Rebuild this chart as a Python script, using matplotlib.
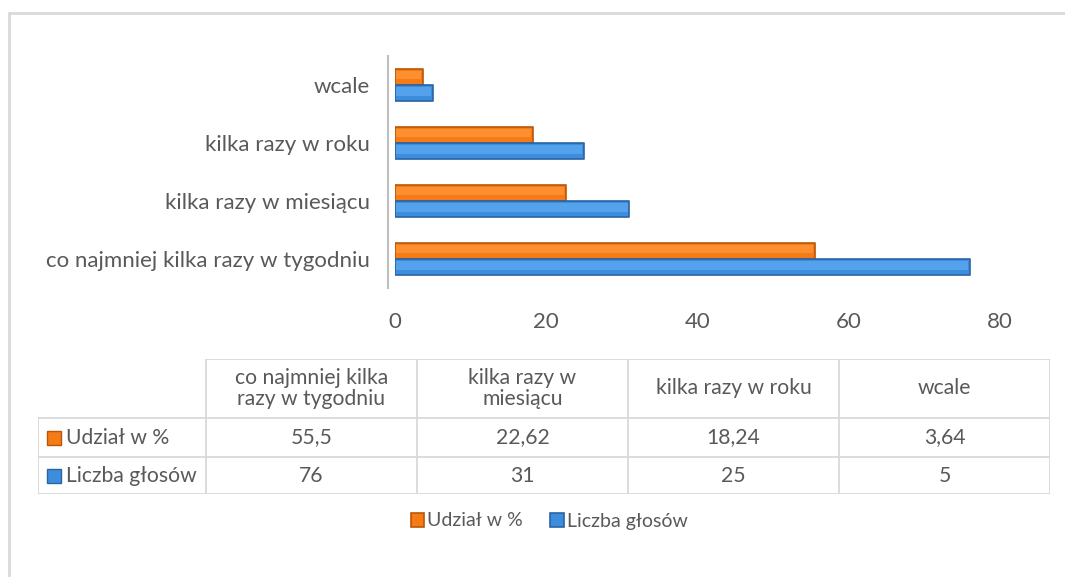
import numpy as np
import matplotlib.pyplot as plt
from matplotlib.patches import Rectangle

# data
categories = ["co najmniej kilka razy w tygodniu", "kilka razy w miesiącu",
              "kilka razy w roku", "wcale"]
header_labels = ["co najmniej kilka\nrazy w tygodniu", "kilka razy w\nmiesiącu",
                 "kilka razy w roku", "wcale"]
share_pct = [55.5, 22.62, 18.24, 3.64]
votes = [76, 31, 25, 5]
series_names = ["Udział w %", "Liczba głosów"]
x_ticks = [0, 20, 40, 60, 80]

ORANGE = "#f47b16"
ORANGE_HI = "#fd8f30"
ORANGE_DK = "#b85606"
BLUE = "#3c8ddc"
BLUE_HI = "#55a2ec"
BLUE_DK = "#2a64a4"
TXT = "#595959"
GRID = "#d9d9d9"

plt.rcParams["font.family"] = ["Lato", "DejaVu Sans"]

W, H = 1065, 577
fig = plt.figure(figsize=(W / 100, H / 100), dpi=100)


def fx(px):
    return px / W


def fy(py):
    return 1 - py / H


# outer frame (right/bottom edges fall outside the picture)
fig.add_artist(Rectangle((fx(9), -0.2), 1.2, fy(12.5) + 0.2, transform=fig.transFigure,
                         fill=False, ec=GRID, lw=2))

fs = 16
fs_tab = 15.2
fs_leg = 14

# --- bar chart ---
ax = fig.add_axes([fx(395), fy(288), fx(1000) - fx(395), fy(56) - fy(288)])
y = np.arange(len(categories))
bh = 0.28


def bevel_bars(yy, vals, c, hi, dk):
    bars = ax.barh(yy, vals, height=bh, color=c, edgecolor=dk, linewidth=1.2,
                   joinstyle="round", zorder=2)
    ax.barh(yy + bh * 0.1, np.asarray(vals) - 0.4, height=bh * 0.5, left=0.15,
            color=hi, linewidth=0, zorder=3)
    return bars


b_orange = bevel_bars(y + bh / 2, share_pct, ORANGE, ORANGE_HI, ORANGE_DK)
b_blue = bevel_bars(y - bh / 2, votes, BLUE, BLUE_HI, BLUE_DK)

ax.set_xlim(0, 80)
ax.set_ylim(-0.5, 3.5)
ax.set_yticks(y)
ax.set_yticklabels(categories)
ax.set_xticks(x_ticks)
ax.tick_params(axis="both", length=0, labelsize=fs, labelcolor=TXT)
ax.tick_params(axis="x", pad=17)
ax.tick_params(axis="y", pad=13)
for s in ["top", "right", "bottom"]:
    ax.spines[s].set_visible(False)
ax.spines["left"].set_color("#bfbfbf")
ax.spines["left"].set_linewidth(1.5)
ax.spines["left"].set_position(("outward", 5))

# --- data table ---
left, right, top, bottom = 38, 1050, 359, 494
row_edges = [359, 418, 457, 494]
first_w = 168
tab = fig.add_axes([fx(left), fy(bottom), fx(right) - fx(left), fy(top) - fy(bottom)])
tab.set_xlim(left, right)
tab.set_ylim(bottom, top)
tab.axis("off")
ncol = len(categories)
col_w = (right - left - first_w) / ncol
col_edges = [left + first_w + i * col_w for i in range(ncol + 1)]

lw = 1.3
# horizontal lines
tab.plot([col_edges[0], right], [top, top], color=GRID, lw=lw)
for r in row_edges[1:]:
    tab.plot([left, right], [r, r], color=GRID, lw=lw)
# vertical lines
tab.plot([left, left], [row_edges[1], bottom], color=GRID, lw=lw)
for c in col_edges:
    tab.plot([c, c], [top, bottom], color=GRID, lw=lw)

for i, lab in enumerate(header_labels):
    cx = (col_edges[i] + col_edges[i + 1]) / 2
    tab.text(cx, (row_edges[0] + row_edges[1]) / 2, lab, ha="center", va="center",
             fontsize=fs_tab, color=TXT, linespacing=1.1)

rows = [share_pct, votes]
colors = [(ORANGE, ORANGE_DK), (BLUE, BLUE_DK)]
for r, (vals, name, (c, dk)) in enumerate(zip(rows, series_names, colors)):
    cy = (row_edges[r + 1] + row_edges[r + 2]) / 2
    tab.add_patch(Rectangle((left + 9, cy - 7), 14, 14, fc=c, ec=dk, lw=1))
    tab.text(left + 28, cy, name, ha="left", va="center", fontsize=fs_tab, color=TXT)
    for i, v in enumerate(vals):
        cx = (col_edges[i] + col_edges[i + 1]) / 2
        tab.text(cx, cy, f"{v:g}".replace(".", ","), ha="center", va="center",
                 fontsize=fs_tab, color=TXT)

# --- legend ---
leg = fig.legend([b_orange, b_blue], series_names, loc="center", ncol=2,
                 bbox_to_anchor=(fx(549), fy(521)), frameon=False, fontsize=fs_leg,
                 handlelength=0.7, handleheight=0.7, handletextpad=0.15, columnspacing=1.4)
for t in leg.get_texts():
    t.set_color(TXT)

fig.savefig("out.png", dpi=100)
